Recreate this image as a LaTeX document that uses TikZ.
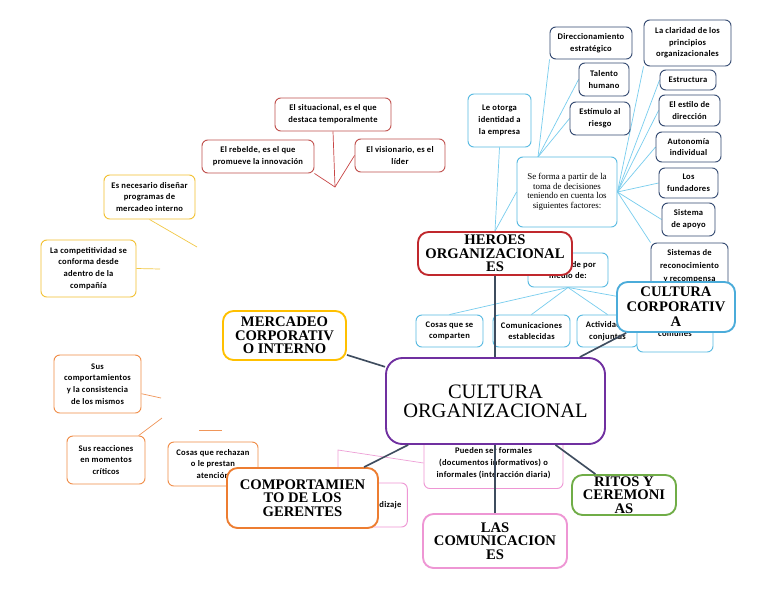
\documentclass[tikz,border=0pt]{standalone}
\usepackage{fontspec}
\setmainfont{Liberation Serif}
\newfontfamily\calibri[LetterSpace=3]{Carlito}
\pgfdeclarelayer{fondo}
\pgfsetlayers{fondo,main}

\begin{document}
\begin{tikzpicture}[
    x=0.03cm, y=-0.03cm,
    every node/.style={font=\calibri\bfseries\fontsize{7.3}{10}\selectfont},
    tema/.style={
        rectangle, rounded corners=9pt, fill=white,
        line width=1.6pt, align=center, inner sep=1pt,
        font=\bfseries\fontsize{12.5}{11.5}\selectfont
    },
    hoja/.style={
        rectangle, rounded corners=5pt, fill=white,
        line width=0.8pt, align=center, inner sep=1pt
    },
    roja/.style={hoja, draw={rgb,255:red,192;green,80;blue,77}},
    amarilla/.style={hoja, draw={rgb,255:red,242;green,192;blue,48}},
    naranja/.style={hoja, draw={rgb,255:red,240;green,140;blue,70}},
    rosa/.style={hoja, draw={rgb,255:red,238;green,150;blue,212}},
    celeste/.style={hoja, draw={rgb,255:red,85;green,185;blue,225}},
    marina/.style={hoja, draw={rgb,255:red,50;green,72;blue,112}},
    rama/.style={
        line width=1.4pt,
        color={rgb,255:red,62;green,76;blue,94}
    },
    lazo/.style={line width=0.6pt},
    lroja/.style={lazo, color={rgb,255:red,200;green,70;blue,70}},
    lamarilla/.style={lazo, color={rgb,255:red,242;green,200;blue,70}},
    lnaranja/.style={lazo, color={rgb,255:red,240;green,150;blue,90}},
    lrosa/.style={lazo, color={rgb,255:red,238;green,160;blue,215}},
    lceleste/.style={lazo, color={rgb,255:red,120;green,205;blue,238}}
]

\useasboundingbox (0,0) rectangle (768,594);

%% ── Heroes: tipos ──────────────────────────────────────────────────
\node[roja, minimum width=3.48cm, minimum height=0.99cm] (r1) at (333,114.5)
    {El situacional, es el que\\destaca temporalmente};
\node[roja, minimum width=3.36cm, minimum height=0.99cm] (r2) at (258,156.5)
    {El rebelde, es el que\\promueve la innovación};
\node[roja, minimum width=2.7cm, minimum height=0.99cm] (r3) at (400,155.5)
    {El visionario, es el\\líder};
\coordinate (hubR) at (335,187);

%% ── Mercadeo ────────────────────────────────────────────────────────
\node[amarilla, minimum width=2.73cm, minimum height=1.32cm] (m1) at (149.5,197)
    {Es necesario diseñar\\programas de\\mercadeo interno};
\node[amarilla, minimum width=2.85cm, minimum height=1.71cm] (m2) at (88.5,268.5)
    {La competitividad se\\conforma desde\\adentro de la\\compañía};
\coordinate (hubM1) at (197,247);
\coordinate (hubM2) at (160,269);

%% ── Comportamiento de los gerentes ─────────────────────────────────
\node[naranja, minimum width=2.61cm, minimum height=1.74cm] (g1) at (97.5,384)
    {Sus\\comportamientos\\y la consistencia\\de los mismos};
\node[naranja, minimum width=2.34cm, minimum height=1.44cm] (g2) at (106,460)
    {Sus reacciones\\en momentos\\críticos};
\node[naranja, minimum width=2.7cm, minimum height=1.32cm] (g3) at (213,464)
    {Cosas que rechazan\\o le prestan\\atención};
\coordinate (hubG1) at (161,398);
\coordinate (hubG2) at (162,418);
\coordinate (hubG3) at (199,430);
\coordinate (hubG4) at (222,430);

%% ── Comunicaciones ──────────────────────────────────────────────────
\node[rosa, minimum width=4.17cm, minimum height=1.53cm] (c1) at (493.5,463)
    {Pueden ser formales\\(documentos informativos) o\\informales (interacción diaria)};
\node[rosa, minimum width=1.7cm, minimum height=1.32cm] (c2) at (379,505)
    {Aprendizaje};
\coordinate (hubC) at (338,450);

%% ── Cultura corporativa ─────────────────────────────────────────────
\node[celeste, minimum width=1.89cm, minimum height=1.59cm] (k1) at (499.5,120.5)
    {Le otorga\\identidad a\\la empresa};
\node[marina, minimum width=2.46cm, minimum height=0.96cm] (k2) at (591,43)
    {Direccionamiento\\estratégico};
\node[marina, minimum width=1.5cm, minimum height=0.99cm] (k3) at (604,79.5)
    {Talento\\humano};
\node[marina, minimum width=1.8cm, minimum height=0.99cm] (k4) at (600,118.5)
    {Estímulo al\\riesgo};
\node[celeste, minimum width=3cm, minimum height=2.1cm,
      font=\fontsize{7.6}{8.2}\selectfont] (k5) at (567,192)
    {Se forma a partir de la\\toma de decisiones\\teniendo en cuenta los\\siguientes factores:};
\node[marina, minimum width=2.61cm, minimum height=1.38cm] (k6) at (687.5,43)
    {La claridad de los\\principios\\organizacionales};
\node[marina, minimum width=1.68cm, minimum height=0.6cm] (k7) at (688,80)
    {Estructura};
\node[marina, minimum width=1.83cm, minimum height=0.93cm] (k8) at (689.5,110.5)
    {El estilo de\\dirección};
\node[marina, minimum width=1.95cm, minimum height=0.9cm] (k9) at (688.5,147)
    {Autonomía\\individual};
\node[marina, minimum width=1.77cm, minimum height=0.9cm] (k10) at (688.5,183)
    {Los\\fundadores};
\node[marina, minimum width=1.59cm, minimum height=0.99cm] (k11) at (688.5,219.5)
    {Sistema\\de apoyo};
\node[marina, minimum width=2.31cm, minimum height=1.41cm,
      font=\calibri\bfseries\fontsize{7.3}{11}\selectfont] (k12) at (689.5,266.5)
    {Sistemas de\\reconocimiento\\y recompensa};
\node[celeste, minimum width=2.4cm, minimum height=1.02cm] (k13) at (568,270)
    {Se logra de por\\medio de:};
\node[celeste, minimum width=2.01cm, minimum height=0.96cm] (k14) at (449.5,331)
    {Cosas que se\\comparten};
\node[celeste, minimum width=2.31cm, minimum height=0.96cm] (k15) at (531.5,331)
    {Comunicaciones\\establecidas};
\node[celeste, minimum width=1.83cm, minimum height=0.96cm] (k16) at (607.5,331)
    {Actividades\\conjuntas};
\node[celeste, minimum width=2.28cm, minimum height=1.26cm] (k17) at (675,331)
    {\mbox{}\\comunes};
\coordinate (hubK) at (538,157);

%% ── Temas principales ───────────────────────────────────────────────
\node[tema, draw={rgb,255:red,192;green,40;blue,45},
      minimum width=4.62cm, minimum height=1.29cm] (he) at (495,253.5)
    {HEROES\\ORGANIZACIONAL\\ES};
\node[tema, draw={rgb,255:red,255;green,192;blue,0},
      minimum width=3.69cm, minimum height=1.47cm] (me) at (284.5,335.5)
    {MERCADEO\\CORPORATIV\\O INTERNO};
\node[tema, draw={rgb,255:red,75;green,172;blue,218},
      minimum width=3.54cm, minimum height=1.5cm,
      font=\bfseries\fontsize{12.5}{12.8}\selectfont] (cc) at (676,307)
    {CULTURA\\CORPORATIV\\A};
\node[tema, draw={rgb,255:red,112;green,173;blue,71},
      minimum width=3.12cm, minimum height=1.2cm] (ri) at (624,495)
    {RITOS Y\\CEREMONI\\AS};
\node[tema, draw={rgb,255:red,238;green,150;blue,212},
      minimum width=4.32cm, minimum height=1.62cm] (lc) at (495,541)
    {LAS\\COMUNICACION\\ES};
\node[tema, draw={rgb,255:red,237;green,125;blue,49},
      minimum width=4.53cm, minimum height=1.8cm] (cg) at (302.5,498)
    {COMPORTAMIEN\\TO DE LOS\\GERENTES};
\node[tema, draw={rgb,255:red,112;green,48;blue,160},
      minimum width=6.57cm, minimum height=2.58cm, rounded corners=14pt,
      font=\fontsize{17.5}{16.5}\selectfont] (co) at (495.5,401)
    {CULTURA\\ORGANIZACIONAL};

%% ── Ramas principales ───────────────────────────────────────────────
\draw[rama] (he.south) -- (he.south |- co.north);
\draw[rama] (me) -- (co);
\draw[rama] (cc) -- (co);
\draw[rama] (ri) -- (co);
\draw[rama] (lc.north) -- (lc.north |- co.south);
\draw[rama] (cg) -- (co);

%% ── Lazos finos (debajo) ────────────────────────────────────────────
\begin{pgfonlayer}{fondo}
\fill[white] (0,0) rectangle (768,594);

\draw[lroja] (r1.south) -- (hubR);
\draw[lroja] (r2.south east) -- (hubR) -- (r3.west);

\draw[lamarilla] (m1.south) -- (hubM1);
\draw[lamarilla] (m2.east) -- (hubM2);

\draw[lnaranja] (g1) -- (hubG1);
\draw[lnaranja] (g2) -- (hubG2);
\draw[lnaranja] (hubG3) -- (hubG4);

\draw[lrosa] (c1.west) -- (hubC) -- (hubC |- c2.north);

\draw[lceleste] (he.north) -- (k1.south);
\draw[lceleste] (he.north) -- (k5.west);
\draw[lceleste] (hubK) -- (k2.south west);
\draw[lceleste] (hubK) -- (k3.west);
\draw[lceleste] (hubK) -- (k4.west);
\foreach \k in {k7,k8,k9,k10,k11}
    \draw[lceleste] (k5.east) -- (\k.west);
\draw[lceleste] (k5.east) -- (k6.south west);
\draw[lceleste] (k5.east) -- (k12.north west);
\foreach \k in {k14,k15,k16}
    \draw[lceleste] (k13.south) -- (\k.north);
\draw[lceleste] (k13.south) -- (cc);
\end{pgfonlayer}

\end{tikzpicture}
\end{document}
